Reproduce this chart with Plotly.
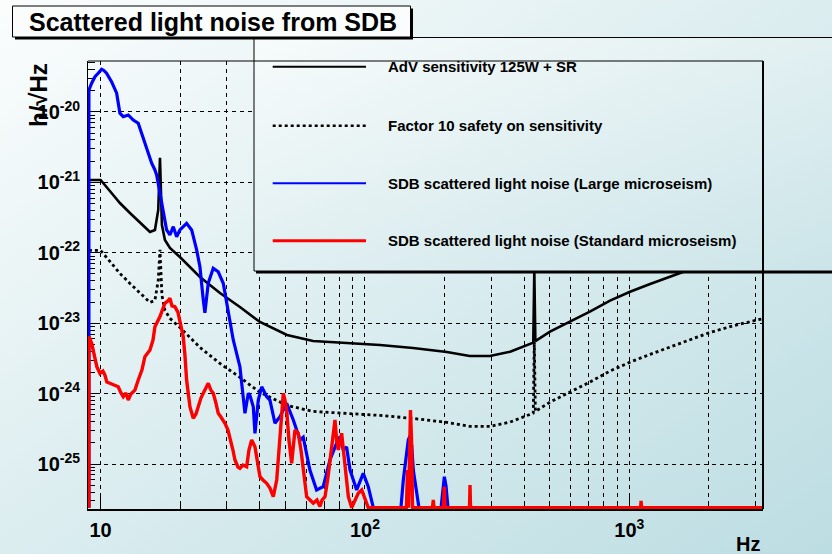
import base64
import plotly.graph_objects as go

# ---------------- data ----------------
freq_sens = [9.03, 10.0, 10.84, 11.83, 12.91, 14.08, 15.37, 16.05, 16.52, 16.77, 17.06, 17.51,
             18.29, 19.95, 23.75, 28.28, 33.65, 40.06, 50.7, 63.6, 85.5, 114, 152, 204, 249,
             297, 354, 397, 433, 437, 441, 501, 596, 709, 845, 1006, 1198, 1425, 2000, 2500,
             3000, 3200]
adv_sensitivity = [1.08e-21, 1.08e-21, 7.55e-22, 5.09e-22, 3.67e-22, 2.65e-22, 1.97e-22, 2.11e-22,
                   4.06e-22, 2.24e-21, 2.48e-22, 1.52e-22, 1.17e-22, 8.7e-23, 4.53e-23, 2.68e-23,
                   1.70e-23, 1.04e-23, 6.8e-24, 5.58e-24, 5.24e-24, 4.9e-24, 4.44e-24, 3.9e-24,
                   3.42e-24, 3.42e-24, 3.94e-24, 4.63e-24, 5.28e-24, 5.5e-23, 5.58e-24, 7.57e-24,
                   1.05e-23, 1.46e-23, 2.09e-23, 2.80e-23, 3.61e-23, 4.58e-23, 7.3e-23, 9.3e-23,
                   1.1e-22, 1.16e-22]
safety_factor10 = [1.08e-22, 1.08e-22, 7.55e-23, 5.09e-23, 3.67e-23, 2.65e-23, 1.97e-23, 2.11e-23,
                   4.06e-23, 1.1e-22, 2.48e-23, 1.52e-23, 1.17e-23, 8.7e-24, 4.53e-24, 2.68e-24,
                   1.70e-24, 1.04e-24, 6.8e-25, 5.58e-25, 5.24e-25, 4.9e-25, 4.44e-25, 3.9e-25,
                   3.42e-25, 3.42e-25, 3.94e-25, 4.63e-25, 5.28e-25, 5.45e-24, 5.58e-25, 7.57e-25,
                   1.05e-24, 1.46e-24, 2.09e-24, 2.80e-24, 3.61e-24, 4.58e-24, 7.3e-24, 9.3e-24,
                   1.1e-23, 1.16e-23]

freq_large = [9.03, 9.03, 9.25, 9.52, 9.79, 10.09, 10.29, 10.53, 11.0, 11.5, 11.83, 12.18, 12.72,
              13.29, 13.88, 14.29, 14.93, 15.6, 16.05, 16.29, 16.77, 17.26, 17.77, 18.29, 18.83,
              19.39, 19.95, 21.15, 22.1, 23.08, 23.75, 24.45, 24.8, 25.12, 25.53, 26.67, 27.86,
              29.1, 30.4, 31.75, 33.65, 34.64, 35.16, 36.19, 36.7, 37.8, 38.36, 39.48, 40.67,
              42.5, 43.7, 45.65, 47.7, 50.55, 53.56, 56.8, 58.4, 61.9, 65.6, 69.5, 73.7, 78.1,
              80.4, 82.8, 85.2, 87.8, 93.0, 98.5, 102.9, 107.5, 136.8, 139.6, 143.8, 145.8,
              148.0, 150.2, 152.3, 156.9, 160, 194, 197.9, 199.6, 202.5, 206, 3200]
scatter_large = [2.4e-26, 2.05e-20, 2.56e-20, 3.17e-20, 3.55e-20, 4.05e-20, 3.89e-20, 3.55e-20,
                 2.69e-20, 1.85e-20, 9.6e-21, 8.57e-21, 9.06e-21, 7.69e-21, 6.91e-21, 4.98e-21,
                 3.21e-21, 1.87e-21, 1.5e-21, 1.27e-21, 7.0e-22, 3.64e-22, 2.11e-22, 1.79e-22,
                 2.35e-22, 1.69e-22, 2.11e-22, 2.62e-22, 2.11e-22, 1.1e-22, 6.35e-23, 2.14e-23,
                 1.4e-23, 2.14e-23, 3.69e-23, 6.02e-23, 5.38e-23, 3.69e-23, 1.54e-23, 5.77e-24,
                 2.41e-24, 8.1e-25, 5.25e-25, 1.01e-24, 9.5e-25, 6.5e-25, 2.73e-25, 8.1e-25,
                 1.25e-24, 9.0e-25, 8.1e-25, 3.79e-25, 4.7e-25, 7.28e-25, 4.22e-25, 2.19e-25,
                 2.4e-25, 8.2e-26, 4.28e-26, 4.76e-26, 1.14e-25, 1.97e-25, 2.44e-25, 1.58e-25,
                 1.75e-25, 8.2e-26, 4.28e-26, 7.38e-26, 4.76e-26, 2.4e-26, 2.4e-26, 5.9e-26,
                 1.58e-25, 2.19e-25, 2.5e-25, 1.85e-25, 8.2e-26, 3.8e-26, 2.4e-26, 2.4e-26,
                 5.9e-26, 6.6e-26, 4.9e-26, 2.4e-26, 2.4e-26]

freq_std = [9.03, 9.03, 9.25, 9.52, 9.68, 9.94, 10.2, 10.38, 10.56, 10.84, 11.23, 11.66, 11.94,
            12.18, 12.47, 12.72, 13.02, 13.48, 13.88, 14.33, 14.71, 15.37, 15.78, 16.05, 16.77,
            17.51, 17.97, 18.29, 18.61, 19.1, 19.61, 19.95, 20.53, 20.84, 21.15, 21.77, 22.4,
            22.95, 23.4, 23.96, 24.45, 25.02, 25.53, 26.14, 26.67, 27.3, 27.86, 28.52, 29.53,
            30.32, 30.84, 31.66, 32.22, 33.07, 33.65, 34.54, 35.68, 36.4, 37.27, 38.36, 39.37,
            40.07, 41.13, 42.47, 43.7, 45.0, 46.35, 47.7, 49.1, 49.8, 50.55, 51.57, 52.8, 54.35,
            55.93, 57.26, 58.4, 60.17, 61.93, 63.73, 65.8, 67.55, 68.8, 70.6, 72.4, 73.7, 75.7,
            77.0, 78.1, 79.25, 81.6, 84.0, 86.5, 89.1, 91.7, 94.3, 97.2, 100, 102.9, 143.5,
            144.8, 146.1, 147.4, 148.6, 150.0, 151.3, 180, 181.3, 182.4, 198.1, 199.5, 200.8,
            248.5, 249.6, 250.7, 1103, 1107.5, 1112, 3200]
scatter_std = [2.4e-26, 6.5e-24, 5.18e-24, 3.0e-24, 2.4e-24, 1.94e-24, 2.09e-24, 1.84e-24,
               1.46e-24, 1.4e-24, 1.32e-24, 1.25e-24, 1.02e-24, 9.04e-25, 1.02e-24, 8.1e-25,
               9.9e-25, 1.12e-24, 1.56e-24, 2.16e-24, 3.34e-24, 4.16e-24, 5.77e-24, 8.9e-24,
               1.24e-23, 1.92e-23, 2.07e-23, 2.26e-23, 1.76e-23, 1.71e-23, 1.44e-23, 1.11e-23,
               6.45e-24, 3.55e-24, 1.56e-24, 6.52e-25, 4.46e-25, 5.13e-25, 6.52e-25, 8.65e-25,
               1.01e-24, 1.2e-24, 1.4e-24, 1.12e-24, 1.01e-24, 7.35e-25, 5.25e-25, 4.65e-25,
               3.79e-25, 3.04e-25, 2.44e-25, 1.58e-25, 1.14e-25, 9.06e-26, 8.69e-26, 9.68e-26,
               9.16e-26, 1.58e-25, 2.19e-25, 1.76e-25, 9.7e-26, 6.6e-26, 5.93e-26, 5.32e-26,
               4.56e-26, 3.43e-26, 5.93e-26, 2.44e-25, 1.01e-24, 8.1e-25, 5.85e-25, 2.19e-25,
               1.02e-25, 3.04e-25, 2.73e-25, 1.58e-25, 8.2e-26, 3.43e-26, 3.08e-26, 2.77e-26,
               3.08e-26, 2.5e-26, 3.08e-26, 3.43e-26, 6.32e-26, 1.14e-25, 2.5e-25, 4.22e-25,
               2.19e-25, 1.58e-25, 2.73e-25, 1.02e-25, 3.43e-26, 2.4e-26, 3.08e-26, 3.84e-26,
               4.28e-26, 3.08e-26, 2.4e-26, 2.4e-26, 8.2e-26, 2.4e-26, 2.19e-25, 5.85e-25,
               2.19e-25, 2.4e-26, 2.4e-26, 3.08e-26, 2.4e-26, 2.4e-26, 4.76e-26, 2.4e-26,
               2.4e-26, 5.04e-26, 2.4e-26, 2.4e-26, 3.0e-26, 2.4e-26, 2.4e-26]

x_tick_vals = [10, 100, 1000]
x_tick_text = ["10", "10<sup>2</sup>", "10<sup>3</sup>"]
y_tick_vals = [1e-25, 1e-24, 1e-23, 1e-22, 1e-21, 1e-20]
y_tick_text = ["10<sup>-25</sup>", "10<sup>-24</sup>", "10<sup>-23</sup>",
               "10<sup>-22</sup>", "10<sup>-21</sup>", "10<sup>-20</sup>"]

legend_labels = ["AdV sensitivity 125W + SR",
                 "Factor 10 safety on sensitivity",
                 "SDB scattered light noise (Large microseism)",
                 "SDB scattered light noise (Standard microseism)"]
title_text = "Scattered light noise from SDB"

# ---------------- layout helpers ----------------
W, H = 832, 554
L, R, T, B = 88, 69, 61, 45
PW, PH = W - L - R, H - T - B
FONT = "Liberation Sans, Arial, Helvetica, sans-serif"


def px(x):
    return (x - L) / PW


def py(y):
    return (H - B - y) / PH


def gradient_uri(w, h, c0, c1):
    svg = ('<svg xmlns="http://www.w3.org/2000/svg" width="%d" height="%d">'
           '<defs><linearGradient id="g" x1="0" y1="0" x2="1" y2="1">'
           '<stop offset="0" stop-color="%s"/><stop offset="1" stop-color="%s"/>'
           '</linearGradient></defs><rect width="%d" height="%d" fill="url(#g)"/></svg>'
           % (w, h, c0, c1, w, h))
    return "data:image/svg+xml;base64," + base64.b64encode(svg.encode()).decode()


fig = go.Figure()
fig.add_trace(go.Scatter(x=freq_sens, y=adv_sensitivity, mode="lines", name=legend_labels[0],
                         line=dict(color="black", width=2.6)))
fig.add_trace(go.Scatter(x=freq_sens, y=safety_factor10, mode="lines", name=legend_labels[1],
                         line=dict(color="black", width=2.8, dash="dot")))
fig.add_trace(go.Scatter(x=freq_large, y=scatter_large, mode="lines", name=legend_labels[2],
                         line=dict(color="#0000ff", width=3.2)))
fig.add_trace(go.Scatter(x=freq_std, y=scatter_std, mode="lines", name=legend_labels[3],
                         line=dict(color="#ff0000", width=3.4)))

x_minor = [k * 10 ** n for n in (1, 2, 3) for k in range(2, 10) if k * 10 ** n < 3300]
y_minor = [k * 10.0 ** n for n in range(-26, -19) for k in range(2, 10)]

tickfont = dict(family=FONT, size=20, color="black", weight="bold")
fig.update_xaxes(type="log", range=[0.9523, 3.5055], tickmode="array", tickvals=x_tick_vals,
                 ticktext=x_tick_text, tickfont=tickfont, ticks="inside", ticklen=12,
                 tickcolor="black", showgrid=True, gridcolor="black", gridwidth=1,
                 griddash="4px,4px", showline=True, linecolor="black", linewidth=2,
                 mirror=False, layer="below traces", automargin=False, zeroline=False,
                 ticklabelstandoff=2,
                 minor=dict(tickmode="array", tickvals=x_minor, ticks="inside", ticklen=7,
                            tickcolor="black", showgrid=True, gridcolor="black",
                            gridwidth=1, griddash="4px,4px"))
fig.update_yaxes(type="log", range=[-25.639, -19.276], tickmode="array", tickvals=y_tick_vals,
                 ticktext=y_tick_text, tickfont=tickfont, ticks="inside", ticklen=12,
                 tickcolor="black", showgrid=True, gridcolor="black", gridwidth=1,
                 griddash="4px,4px", showline=True, linecolor="black", linewidth=1,
                 layer="below traces", automargin=False, zeroline=False,
                 ticklabelstandoff=3,
                 minor=dict(tickmode="array", tickvals=y_minor, ticks="inside", ticklen=7,
                            tickcolor="black", showgrid=False))

images = [
    dict(source=gradient_uri(W, H, "#fbfdfd", "#bcdde2"), xref="paper", yref="paper",
         x=px(0), y=py(0), sizex=W / PW, sizey=H / PH, sizing="stretch",
         xanchor="left", yanchor="top", layer="below"),
    dict(source=gradient_uri(600, 234, "#f7fbfb", "#cbe4e8"), xref="paper", yref="paper",
         x=px(254), y=py(37.5), sizex=(845 - 254) / PW, sizey=(271 - 37.5) / PH,
         sizing="stretch", xanchor="left", yanchor="top", layer="above"),
]

shapes = []
# plot frame: top and right
shapes.append(dict(type="line", xref="paper", yref="paper", x0=0, x1=1, y0=1, y1=1,
                   line=dict(color="black", width=1), layer="above"))
shapes.append(dict(type="line", xref="paper", yref="paper", x0=1, x1=1, y0=0, y1=1,
                   line=dict(color="black", width=2), layer="above"))
# legend box border + shadow
shapes.append(dict(type="rect", xref="paper", yref="paper", x0=px(256), x1=px(845),
                   y0=py(273.5), y1=py(271), fillcolor="black", line=dict(width=0), layer="above"))
shapes.append(dict(type="rect", xref="paper", yref="paper", x0=px(254), x1=px(845),
                   y0=py(271), y1=py(37.5), fillcolor="rgba(0,0,0,0)",
                   line=dict(color="black", width=1), layer="above"))
# title box shadow + box
shapes.append(dict(type="rect", xref="paper", yref="paper", x0=px(15), x1=px(413),
                   y0=py(39.5), y1=py(8.5), fillcolor="black", line=dict(width=0), layer="above"))
shapes.append(dict(type="rect", xref="paper", yref="paper", x0=px(12.5), x1=px(410.5),
                   y0=py(37), y1=py(6), fillcolor="#fbfdfd",
                   line=dict(color="black", width=1), layer="above"))

legend_rows_y = [66.7, 125.7, 183.3, 240.7]
legend_styles = [dict(color="black", width=2), dict(color="black", width=2.5, dash="dot"),
                 dict(color="#0000ff", width=2), dict(color="#ff0000", width=3)]
annotations = []
for ly, st, lab in zip(legend_rows_y, legend_styles, legend_labels):
    shapes.append(dict(type="line", xref="paper", yref="paper", x0=px(272.7), x1=px(366),
                       y0=py(ly), y1=py(ly), line=st, layer="above"))
    annotations.append(dict(text=lab, xref="paper", yref="paper", x=px(386), y=py(ly),
                            xanchor="left", yanchor="middle", showarrow=False,
                            font=dict(family=FONT, size=15, color="black", weight="bold")))

annotations.append(dict(text=title_text, xref="paper", yref="paper", x=px(213), y=py(21.5),
                        xanchor="center", yanchor="middle", showarrow=False,
                        font=dict(family=FONT, size=25, color="black", weight="bold")))
annotations.append(dict(text="Hz", xref="paper", yref="paper", x=px(762), y=py(544),
                        xanchor="right", yanchor="middle", showarrow=False,
                        font=dict(family=FONT, size=20, color="black", weight="bold")))
annotations.append(dict(text="h/√Hz", xref="paper", yref="paper", x=px(39), y=py(95),
                        xanchor="center", yanchor="middle", showarrow=False, textangle=-90,
                        font=dict(family=FONT, size=24, color="black", weight="bold")))

fig.update_layout(width=W, height=H, margin=dict(l=L, r=R, t=T, b=B, pad=0),
                  paper_bgcolor="#e4f1f3", plot_bgcolor="rgba(0,0,0,0)",
                  showlegend=False, images=images, shapes=shapes, annotations=annotations,
                  font=dict(family=FONT, color="black"))

fig.write_html("out.html", config={"displayModeBar": False},
               post_script="document.body.style.margin='0';document.body.style.overflow='hidden';")
